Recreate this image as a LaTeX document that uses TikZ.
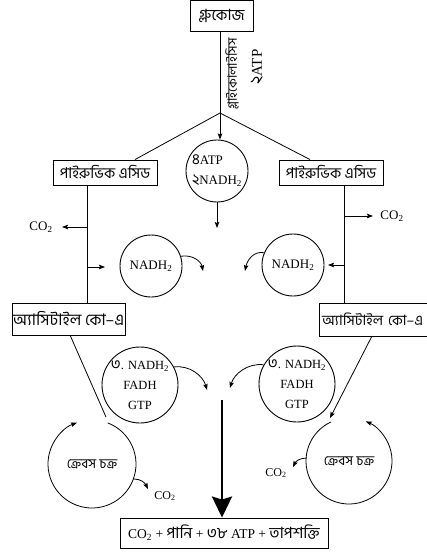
\documentclass[tikz,border=0pt]{standalone}
\usepackage{fontspec}
\setmainfont{Liberation Serif}
\newfontfamily\bn[Script=Bengali]{Hind Siliguri}
\usetikzlibrary{arrows.meta}
\newcommand\bd[1]{{\bn\fontsize{15}{20}\selectfont #1}}
\tikzset{
  box/.style={draw, line width=0.9pt, inner sep=0pt, font=\bn\fontsize{15}{17}\selectfont},
  circ/.style={draw, circle, inner sep=0pt, line width=0.9pt},
  lat/.style={font=\fontsize{13}{20}\selectfont},
  small/.style={font=\fontsize{12}{14}\selectfont},
  arr/.style={-{Stealth[length=6pt,width=4.5pt,inset=1pt]}},
}
\begin{document}
\begin{tikzpicture}[x=1pt,y=-1pt,line width=0.8pt]
\useasboundingbox (0,0) rectangle (427,553);
% boxes
\node[box, minimum width=63, minimum height=31, font=\bn\fontsize{15.5}{17}\selectfont] (glu) at (221.5,15.5) {গ্লুকোজ};
\node[box, minimum width=104, minimum height=25] (pl) at (105,172.5) {পাইরুভিক এসিড};
\node[box, minimum width=104, minimum height=25] (pr) at (331,172.5) {পাইরুভিক এসিড};
\node[box, minimum width=113, minimum height=32, font=\bn\fontsize{16}{18}\selectfont] (al) at (68.5,319) {অ্যাসিটাইল কো–এ};
\node[box, inner xsep=3pt, text width=112, align=left, minimum height=33, font=\bn\fontsize{14.3}{18}\selectfont] (ar) at (378,319.5) {অ্যাসিটাইল কো–এ};
\node[draw, line width=0.9pt, minimum width=208, minimum height=30, inner sep=0pt, font=\fontsize{13.5}{20}\selectfont] (bot) at (224,533)
  {CO\textsubscript{2} + {\bn\fontsize{15.5}{17}\selectfont পানি} + {\bn\fontsize{15.5}{17}\selectfont ৩৮} ATP + {\bn\fontsize{15.5}{17}\selectfont তাপশক্তি}};
% glycolysis
\coordinate (br) at (220,113);
\node[rotate=90, font=\bn\fontsize{13}{14}\selectfont] (gly) at (232,74) {গ্লাইকোলাইসিস};
\node[rotate=90, font=\fontsize{15}{20}\selectfont] (atp2) at (257,67) {{\bn\fontsize{17}{20}\selectfont ২}ATP};
\node[circ, minimum size=62, align=left, lat] (atp) at (217,171) {\bd{৪}ATP\\\bd{২}NADH\textsubscript{2}};
\draw[arr] (glu.south -| br) -- (br |- atp.north);
\draw (br) -- ([xshift=30pt]pl.north);
\draw (br) -- ([xshift=-21pt]pr.north);
\coordinate (c4) at (217,228);
\draw[arr] (atp.south) -- (c4);
% left column
\coordinate (lx) at (87,0);
\draw (pl.south -| lx) -- (al.north -| lx);
\coordinate (lco) at (87,227);
\coordinate (lcoe) at (62,227);
\node[lat] (co2a) at (41,227) {CO\textsubscript{2}};
\draw[arr] (lco) -- (lcoe);
\coordinate (lna) at (87,267);
\coordinate (lnae) at (105,267);
\draw[arr] (lna) -- (lnae);
\node[circ, minimum size=62, lat] (nl) at (151,266) {NADH\textsubscript{2}};
\coordinate (nle) at (203,271);
\draw[arr] (nl.18) .. controls +(11,-2) and +(-2,-10) .. (nle);
% right column
\coordinate (rx) at (344,0);
\draw (pr.south -| rx) -- (ar.north -| rx);
\coordinate (rco) at (344,216);
\coordinate (rcoe) at (373,216);
\node[lat] (co2b) at (392,216) {CO\textsubscript{2}};
\draw[arr] (rco) -- (rcoe);
\coordinate (rna) at (344,265);
\coordinate (rnae) at (328,265);
\draw[arr] (rna) -- (rnae);
\node[circ, minimum size=62, lat] (nr) at (293,265) {NADH\textsubscript{2}};
\coordinate (nre) at (245,271);
\draw[arr] (nr.157) .. controls +(-11,-2) and +(2,-10) .. (nre);
% TCA products
\node[circ, minimum size=68, align=center, font=\fontsize{12.5}{20}\selectfont] (tl) at (140,385) {\bd{৩}. NADH\textsubscript{2}\\FADH\\GTP};
\node[circ, minimum size=68, align=center, font=\fontsize{12.5}{20}\selectfont] (tr) at (297,384) {\bd{৩}. NADH\textsubscript{2}\\FADH\\GTP};
\coordinate (tle) at (207,390);
\coordinate (tre) at (230,388);
\draw[arr] (tl.28) .. controls +(16,-2) and +(-4,-14) .. (tle);
\draw[arr] (tr.150) .. controls +(-16,-2) and +(4,-14) .. (tre);
% Krebs
\node[font=\bn\fontsize{13.5}{15}\selectfont] (kl) at (92,464) {ক্রেবস চক্র};
\node[font=\bn\fontsize{13.5}{15}\selectfont] (kr) at (349,461) {ক্রেবস চক্র};
\draw[arr] (kl) ++(-69:44) arc[start angle=-69, end angle=250, radius=44];
\draw[arr] (kr) ++(245:43) arc[start angle=245, end angle=-67, radius=43];
\coordinate (als) at (70,335);
\coordinate (kle) at (106,417);
\draw (als) -- (kle);
\coordinate (ars) at (372,336);
\coordinate (kre) at (330,418);
\draw[arr] (ars) -- (kre);
\coordinate (klc) at (134,479);
\coordinate (klce) at (148,489);
\draw[arr] (klc) .. controls +(7,0) and +(-3,-6) .. (klce);
\node[small] (co2c) at (165,496) {CO\textsubscript{2}};
\coordinate (krc) at (307,458);
\coordinate (krce) at (293,467);
\draw[arr] (krc) .. controls +(-7,0) and +(3,-6) .. (krce);
\node[small] (co2d) at (276,473) {CO\textsubscript{2}};
% central arrow
\coordinate (ct) at (222,400);
\draw[line width=2.6pt, -{Stealth[length=21pt,width=20pt,inset=3pt]}] (ct) -- (ct |- bot.north);
\end{tikzpicture}
\end{document}
